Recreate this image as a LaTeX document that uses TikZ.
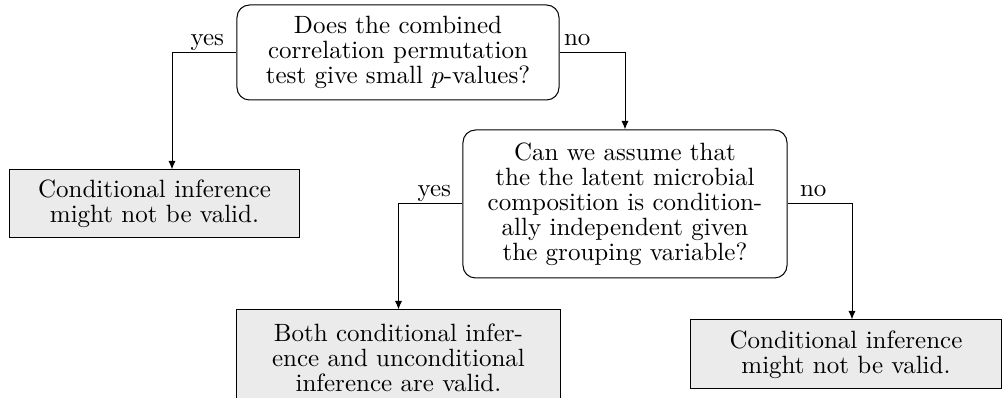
\documentclass[tikz,border=0pt]{standalone}
\usetikzlibrary{arrows.meta}
\begin{document}
\begin{tikzpicture}[x=0.4pt,y=-0.4pt,
  base/.style={draw=black, line width=0.4pt, inner sep=0pt, align=center,
    font=\fontsize{10}{10}\selectfont},
  question/.style={base, rounded corners=5pt, fill=white},
  answer/.style={base, fill=black!8},
  lbl/.style={inner sep=0pt, font=\fontsize{10}{10}\selectfont},
  arr/.style={draw=black, line width=0.4pt, -{Latex[length=3.4pt,width=2.8pt]}}]
\useasboundingbox (0,0) rectangle (1003,398);

\node[question, minimum width=128.8pt, minimum height=38pt] (q1) at (398,52.5)
  {Does the combined\\correlation permutation\\test give small $p$-values?};
\node[answer, minimum width=115.6pt, minimum height=27.2pt] (a1) at (154.5,204)
  {Conditional inference\\might not be valid.};
\node[question, minimum width=129.6pt, minimum height=59.2pt] (q2) at (625,204)
  {Can we assume that\\the the latent microbial\\composition is condition-\\ally independent given\\the grouping variable?};
\node[answer, minimum width=129.2pt, minimum height=38pt] (a2) at (398.5,357.5)
  {Both conditional infer-\\ence and unconditional\\inference are valid.};
\node[answer, minimum width=124pt, minimum height=27.6pt] (a3) at (846,354.5)
  {Conditional inference\\might not be valid.};

\draw[arr] (q1.west) -| ([xshift=7pt]a1.north);
\draw[arr] (q1.east) -| (q2.north);
\draw[arr] (q2.west) -| (a2.north);
\draw[arr] (q2.east) -| ([xshift=2.4pt]a3.north);

\node[lbl, anchor=base east] (l1) at ([xshift=-4.8pt,yshift=2.8pt]q1.west) {yes};
\node[lbl, anchor=base west] (l2) at ([xshift=1.6pt,yshift=2.8pt]q1.east) {no};
\node[lbl, anchor=base east] (l3) at ([xshift=-4.4pt,yshift=2.8pt]q2.west) {yes};
\node[lbl, anchor=base west] (l4) at ([xshift=4.8pt,yshift=2.8pt]q2.east) {no};
\end{tikzpicture}
\end{document}
